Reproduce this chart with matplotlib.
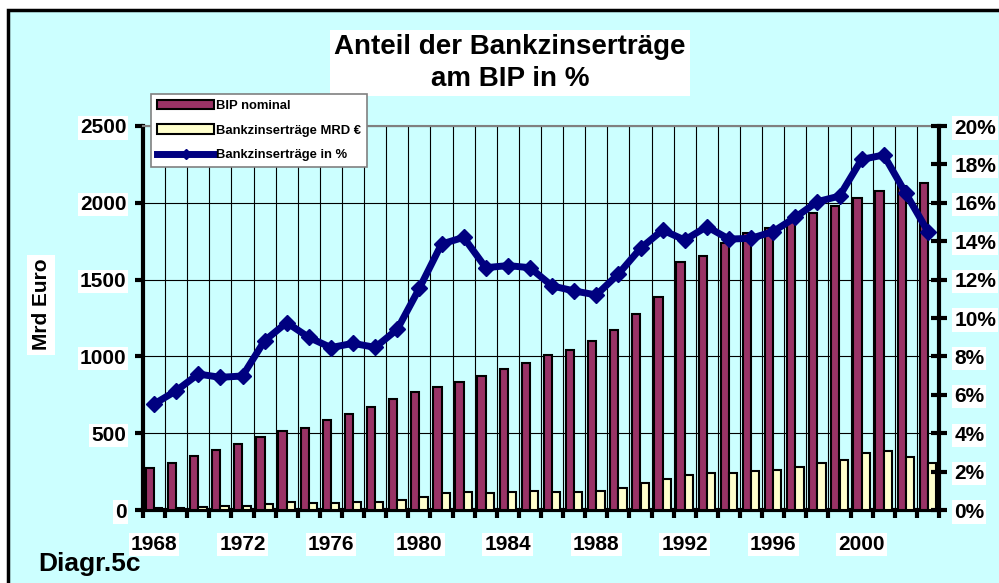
import numpy as np
import matplotlib
matplotlib.use("Agg")
import matplotlib.pyplot as plt
from matplotlib.patches import Rectangle, Patch
from matplotlib.lines import Line2D

plt.rcParams['font.family'] = ['Liberation Sans', 'DejaVu Sans']
plt.rcParams['font.weight'] = 'bold'

years = list(range(1968, 2004))
bip = [271, 308, 354, 389, 427, 477, 514, 536, 584, 625, 671, 723,
       766, 798, 833, 872, 916, 955, 1009, 1044, 1100, 1170, 1276, 1389,
       1613, 1656, 1738, 1803, 1838, 1877, 1931, 1981, 2031, 2075, 2111, 2131]
zins = [15, 15, 22, 24, 24, 41, 50, 46, 48, 52, 52, 67,
        82, 109, 115, 109, 115, 122, 117, 115, 124, 141, 174, 200,
        226, 241, 243, 254, 263, 282, 306, 323, 369, 382, 345, 306]
pct = [5.52, 6.21, 7.08, 6.91, 6.98, 8.82, 9.76, 8.99, 8.46, 8.68, 8.47, 9.41,
       11.55, 13.85, 14.2, 12.62, 12.73, 12.62, 11.67, 11.41, 11.2, 12.29, 13.63, 14.58,
       14.06, 14.76, 14.11, 14.15, 14.5, 15.24, 16.06, 16.35, 18.26, 18.49, 16.49, 14.5]
year_labels = [1968, 1972, 1976, 1980, 1984, 1988, 1992, 1996, 2000]

cyan = '#CCFFFF'
purple = '#993366'
cream = '#FFFFCC'
navy = '#000080'
W, H = 999, 583

fig = plt.figure(figsize=(W / 100, H / 100), dpi=100, facecolor='white')
# chart area background with black frame
fig.patches.append(Rectangle((8 / W, -0.01), 1.0, (H - 10) / H + 0.01, transform=fig.transFigure,
                             facecolor=cyan, edgecolor='black', linewidth=2.5, zorder=-5))

ax = fig.add_axes([143 / W, (H - 510) / H, (939 - 143) / W, (510 - 126) / H])
ax.set_facecolor(cyan)
x = np.arange(len(years))
w = 0.375
ax.bar(x - w / 2, bip, width=w, color=purple, edgecolor='black', linewidth=1.5, zorder=3)
ax.bar(x + w / 2, zins, width=w, color=cream, edgecolor='black', linewidth=1.5, zorder=3)
ax.set_xlim(-0.5, len(years) - 0.5)
ax.set_ylim(0, 2500)

ax.set_xticks(np.arange(len(years) + 1) - 0.5)
ax.set_xticklabels([])
ax.set_xticks([years.index(y) for y in year_labels], minor=True)
ax.set_xticklabels([str(y) for y in year_labels], minor=True)
ax.tick_params(axis='x', which='major', length=6, width=3, direction='out')
ax.tick_params(axis='x', which='minor', length=0, pad=18, labelsize=15)
ax.set_yticks(range(0, 2501, 500))
ax.tick_params(axis='y', length=6, width=3, direction='out', labelsize=15, pad=6)
ax.grid(True, which='major', color='black', linewidth=0.8, zorder=1)
ax.set_axisbelow(True)

for s in ['left', 'bottom']:
    ax.spines[s].set_linewidth(3)
ax.spines['top'].set_color('gray')
ax.spines['top'].set_linewidth(1.5)
ax.spines['right'].set_visible(False)

ax.set_ylabel('Mrd Euro', fontsize=15, fontweight='bold',
              bbox=dict(facecolor='white', edgecolor='none', pad=3))
ax.yaxis.set_label_coords(-0.116, 0.535)

ax2 = ax.twinx()
ax2.plot(x, pct, color=navy, linewidth=5, marker='D', markersize=8, zorder=4)
ax2.set_ylim(0, 20)
ax2.set_yticks(range(0, 21, 2))
ax2.set_yticklabels([f'{v}%' for v in range(0, 21, 2)])
ax2.tick_params(axis='y', length=12, width=3, direction='inout', labelsize=15, pad=5)
ax2.spines['right'].set_linewidth(3)
for s in ['left', 'bottom', 'top']:
    ax2.spines[s].set_visible(False)

for lbl in ax.get_yticklabels() + ax.get_xticklabels(minor=True) + ax2.get_yticklabels():
    lbl.set_bbox(dict(facecolor='white', edgecolor='none', pad=1.5))

fig.text(510 / W, (H - 63) / H, 'Anteil der Bankzinserträge\nam BIP in %', ha='center', va='center',
         fontsize=20, fontweight='bold', linespacing=1.3,
         bbox=dict(facecolor='white', edgecolor='none', pad=3))
fig.text(38 / W, (H - 564) / H, 'Diagr.5c', ha='left', va='center', fontsize=19, fontweight='bold')

handles = [Patch(facecolor=purple, edgecolor='black', linewidth=1.5),
           Patch(facecolor=cream, edgecolor='black', linewidth=1.5),
           Line2D([], [], color=navy, linewidth=5, marker='D', markersize=5)]
labels = ['BIP nominal', 'Bankzinserträge MRD €', 'Bankzinserträge in %']
leg = fig.legend(handles, labels, loc='upper left', bbox_to_anchor=(151 / W, (H - 94) / H),
                 bbox_transform=fig.transFigure, fancybox=False, framealpha=1,
                 edgecolor='gray', prop={'size': 9.4, 'weight': 'bold'},
                 handlelength=4.4, handletextpad=0.1, borderpad=0.45, labelspacing=0.95,
                 borderaxespad=0)
leg.get_frame().set_linewidth(1.2)
leg.set_zorder(10)

fig.savefig('out.png', dpi=100, facecolor='white')
